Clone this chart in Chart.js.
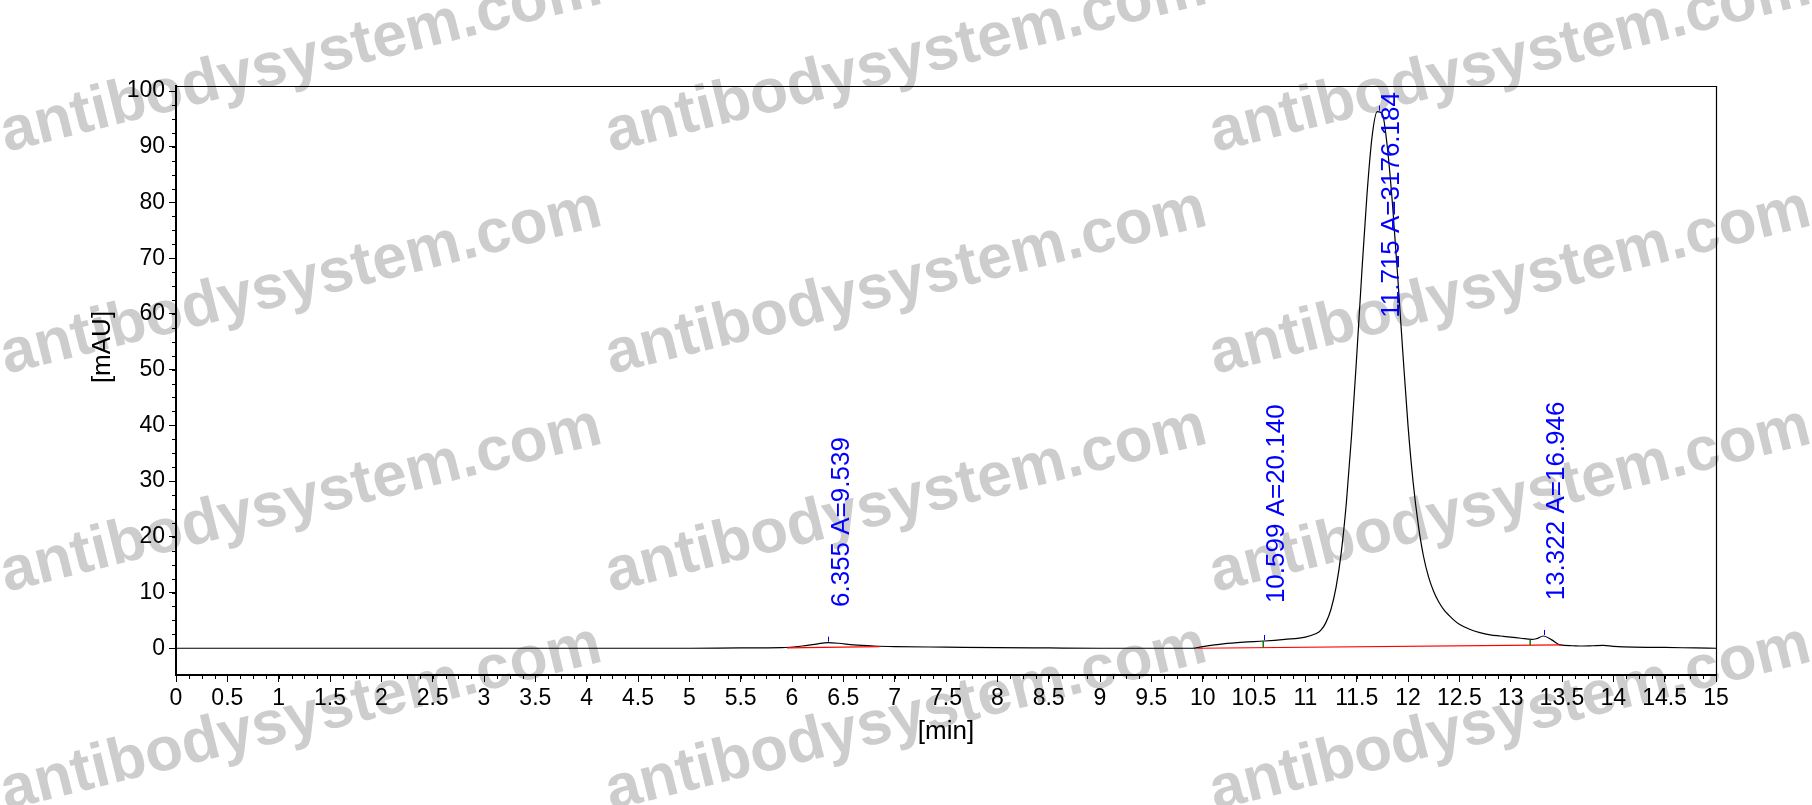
<!DOCTYPE html>
<html>
<head>
<meta charset="utf-8">
<script src="https://cdn.jsdelivr.net/npm/chart.js@4.4.1/dist/chart.umd.min.js"></script>
<style>
html,body{margin:0;padding:0;background:#fff;}
#wrap{width:1812px;height:805px;position:relative;}
</style>
</head>
<body>
<div id="wrap"><canvas id="c" width="1812" height="805"></canvas></div>
<script>
// ---- data ----
const times = [0, 1, 2, 3, 4, 5, 5.5, 5.9, 6.1, 6.25, 6.35, 6.45, 6.6, 6.8, 7.0, 7.5, 8.0, 8.5, 9.0, 9.5, 9.9,
  10.0, 10.2, 10.4, 10.6, 10.8, 11.0, 11.1, 11.15, 11.2, 11.25, 11.3, 11.35, 11.4, 11.45, 11.5, 11.55, 11.6, 11.65, 11.7,
  11.75, 11.8, 11.85, 11.9, 11.95, 12.0, 12.05, 12.1, 12.15, 12.2, 12.25, 12.3, 12.35, 12.4, 12.45, 12.5,
  12.6, 12.7, 12.8, 12.9, 13.0, 13.1, 13.2, 13.25, 13.32, 13.4, 13.48, 13.6, 13.7, 13.8, 13.9, 14.0, 14.2, 14.5, 14.8, 15.0];
const signal = [0, 0, 0, 0, 0, 0, 0.05, 0.1, 0.4, 0.8, 1.0, 0.9, 0.6, 0.4, 0.3, 0.2, 0.1, 0.05, 0, 0, 0,
  0.3, 0.8, 1.1, 1.3, 1.6, 2.0, 2.6, 3.2, 4.6, 7.0, 11.0, 17.2, 26.2, 38.1, 52.3, 67.4, 81.3, 91.8, 96.3,
  95.9, 89.7, 79.4, 66.6, 53.0, 40.0, 29.8, 22.2, 16.6, 12.8, 10.2, 8.3, 6.9, 5.9, 5.0, 4.3,
  3.4, 2.8, 2.4, 2.2, 2.0, 1.8, 1.6, 1.7, 2.2, 1.5, 0.6, 0.45, 0.4, 0.45, 0.5, 0.35, 0.2, 0.15, 0.05, 0];

const peakTimes = [6.355, 10.599, 11.715, 13.322];
const peakLabels = ['6.355 A=9.539', '10.599 A=20.140', '11.715 A=3176.184', '13.322 A=16.946'];
const peakApex = [1.0, 1.3, 96.3, 2.2];
const labelBase = [7.4, 8.1, 59.3, 8.6];

const baseStartT = [5.95, 9.95];
const baseStartV = [0.05, 0.0];
const baseEndT = [6.85, 13.5];
const baseEndV = [0.3, 0.6];

const boundaryTimes = [10.59, 13.19];
const boundaryTop = [1.3, 1.6];

const xTicks = [0, 0.5, 1, 1.5, 2, 2.5, 3, 3.5, 4, 4.5, 5, 5.5, 6, 6.5, 7, 7.5, 8, 8.5, 9, 9.5, 10, 10.5, 11, 11.5, 12, 12.5, 13, 13.5, 14, 14.5, 15];
const yTicks = [0, 10, 20, 30, 40, 50, 60, 70, 80, 90, 100];
const xMinorStep = 0.125;
const yMinorStep = 2.5;

const watermark = 'antibodysystem.com';
const xTitle = '[min]';
const yTitle = '[mAU]';

// ---- build datasets ----
const FONT = "'Liberation Sans', Arial, sans-serif";
const datasets = [{
  data: times.map((t, i) => ({x: t, y: signal[i]})),
  borderColor: '#000', borderWidth: 1.2, pointRadius: 0, showLine: true,
  cubicInterpolationMode: 'monotone', order: 2
}];
function baselineAt(t) {
  for (let i = 0; i < baseStartT.length; i++) {
    if (t >= baseStartT[i] && t <= baseEndT[i]) {
      return baseStartV[i] + (baseEndV[i] - baseStartV[i]) * (t - baseStartT[i]) / (baseEndT[i] - baseStartT[i]);
    }
  }
  return 0;
}
baseStartT.forEach((t, i) => {
  datasets.push({
    data: [{x: t, y: baseStartV[i]}, {x: baseEndT[i], y: baseEndV[i]}],
    borderColor: '#ff0000', borderWidth: 1.2, pointRadius: 0, showLine: true, order: 1
  });
});
boundaryTimes.forEach((t, i) => {
  datasets.push({
    data: [{x: t, y: baselineAt(t)}, {x: t, y: boundaryTop[i]}],
    borderColor: '#008000', borderWidth: 1.5, pointRadius: 0, showLine: true, order: 0
  });
});

const decorPlugin = {
  id: 'decor',
  beforeDraw(chart) {
    const ctx = chart.ctx;
    ctx.save();
    ctx.fillStyle = '#fff';
    ctx.fillRect(0, 0, chart.width, chart.height);
    ctx.fillStyle = 'rgba(175,175,175,0.62)';
    ctx.font = 'bold 62px ' + FONT;
    ctx.textBaseline = 'alphabetic';
    ctx.textAlign = 'left';
    const cols = [6, 611, 1215];
    const rows = [152, 374, 592, 810];
    cols.forEach(cx => rows.forEach(ry => {
      ctx.save();
      ctx.translate(cx, ry);
      ctx.rotate(-14 * Math.PI / 180);
      ctx.fillText(watermark, 0, 0);
      ctx.restore();
    }));
    ctx.restore();
  },
  afterDraw(chart) {
    const ctx = chart.ctx;
    const xs = chart.scales.x, ys = chart.scales.y;
    const a = chart.chartArea;
    ctx.save();
    // frame top/right
    ctx.strokeStyle = '#000';
    ctx.lineWidth = 1.2;
    ctx.beginPath();
    ctx.moveTo(a.left, a.top + 0.5);
    ctx.lineTo(a.right + 0.5, a.top + 0.5);
    ctx.lineTo(a.right + 0.5, a.bottom);
    ctx.stroke();
    // minor ticks
    ctx.lineWidth = 1;
    ctx.beginPath();
    for (let v = xs.min; v <= xs.max + 1e-9; v += xMinorStep) {
      const px = Math.round(xs.getPixelForValue(v)) + 0.5;
      ctx.moveTo(px, a.bottom);
      ctx.lineTo(px, a.bottom + 4);
    }
    for (let v = 0; v <= ys.max + 1e-9; v += yMinorStep) {
      const py = Math.round(ys.getPixelForValue(v)) + 0.5;
      ctx.moveTo(a.left, py);
      ctx.lineTo(a.left - 4, py);
    }
    ctx.stroke();
    // blue apex ticks
    ctx.strokeStyle = '#0000ff';
    ctx.beginPath();
    peakTimes.forEach((t, i) => {
      const px = Math.round(xs.getPixelForValue(t)) + 0.5;
      const py = ys.getPixelForValue(peakApex[i]);
      ctx.moveTo(px, py - 1);
      ctx.lineTo(px, py - 6);
    });
    ctx.stroke();
    // peak labels
    ctx.fillStyle = '#0000ff';
    ctx.font = '26px ' + FONT;
    ctx.textAlign = 'left';
    ctx.textBaseline = 'top';
    peakTimes.forEach((t, i) => {
      ctx.save();
      ctx.translate(xs.getPixelForValue(t), ys.getPixelForValue(labelBase[i]));
      ctx.rotate(-Math.PI / 2);
      ctx.fillText(peakLabels[i], 0, 0);
      ctx.restore();
    });
    // y title
    ctx.fillStyle = '#000';
    ctx.font = '26px ' + FONT;
    ctx.textAlign = 'center';
    ctx.textBaseline = 'middle';
    ctx.save();
    ctx.translate(103, 347);
    ctx.rotate(-Math.PI / 2);
    ctx.fillText(yTitle, 0, 0);
    ctx.restore();
    ctx.restore();
  }
};

new Chart(document.getElementById('c'), {
  type: 'scatter',
  data: {datasets},
  plugins: [decorPlugin],
  options: {
    responsive: false,
    animation: false,
    devicePixelRatio: 1,
    layout: {padding: {left: 0, right: 96, top: 86, bottom: 40}},
    plugins: {legend: {display: false}, tooltip: {enabled: false}},
    scales: {
      x: {
        type: 'linear', min: 0, max: 15,
        afterBuildTicks: s => { s.ticks = xTicks.map(v => ({value: v})); },
        afterFit: s => { s.height = 90; },
        ticks: {font: {family: FONT, size: 23}, color: '#000', padding: 3, maxRotation: 0, autoSkip: false,
          callback: v => String(v)},
        grid: {drawOnChartArea: false, drawTicks: true, tickLength: 7, tickColor: '#000', tickWidth: 1},
        border: {color: '#000', width: 2},
        title: {display: true, text: xTitle, font: {family: FONT, size: 26}, color: '#000', padding: {top: 0, bottom: 18}}
      },
      y: {
        type: 'linear', min: -4.8, max: 100.9,
        afterBuildTicks: s => { s.ticks = yTicks.map(v => ({value: v})); },
        afterFit: s => { s.width = 176; },
        ticks: {font: {family: FONT, size: 23}, color: '#000', padding: 4, callback: v => String(v)},
        grid: {drawOnChartArea: false, drawTicks: true, tickLength: 7, tickColor: '#000', tickWidth: 1},
        border: {color: '#000', width: 2}
      }
    }
  }
});
</script>
</body>
</html>
